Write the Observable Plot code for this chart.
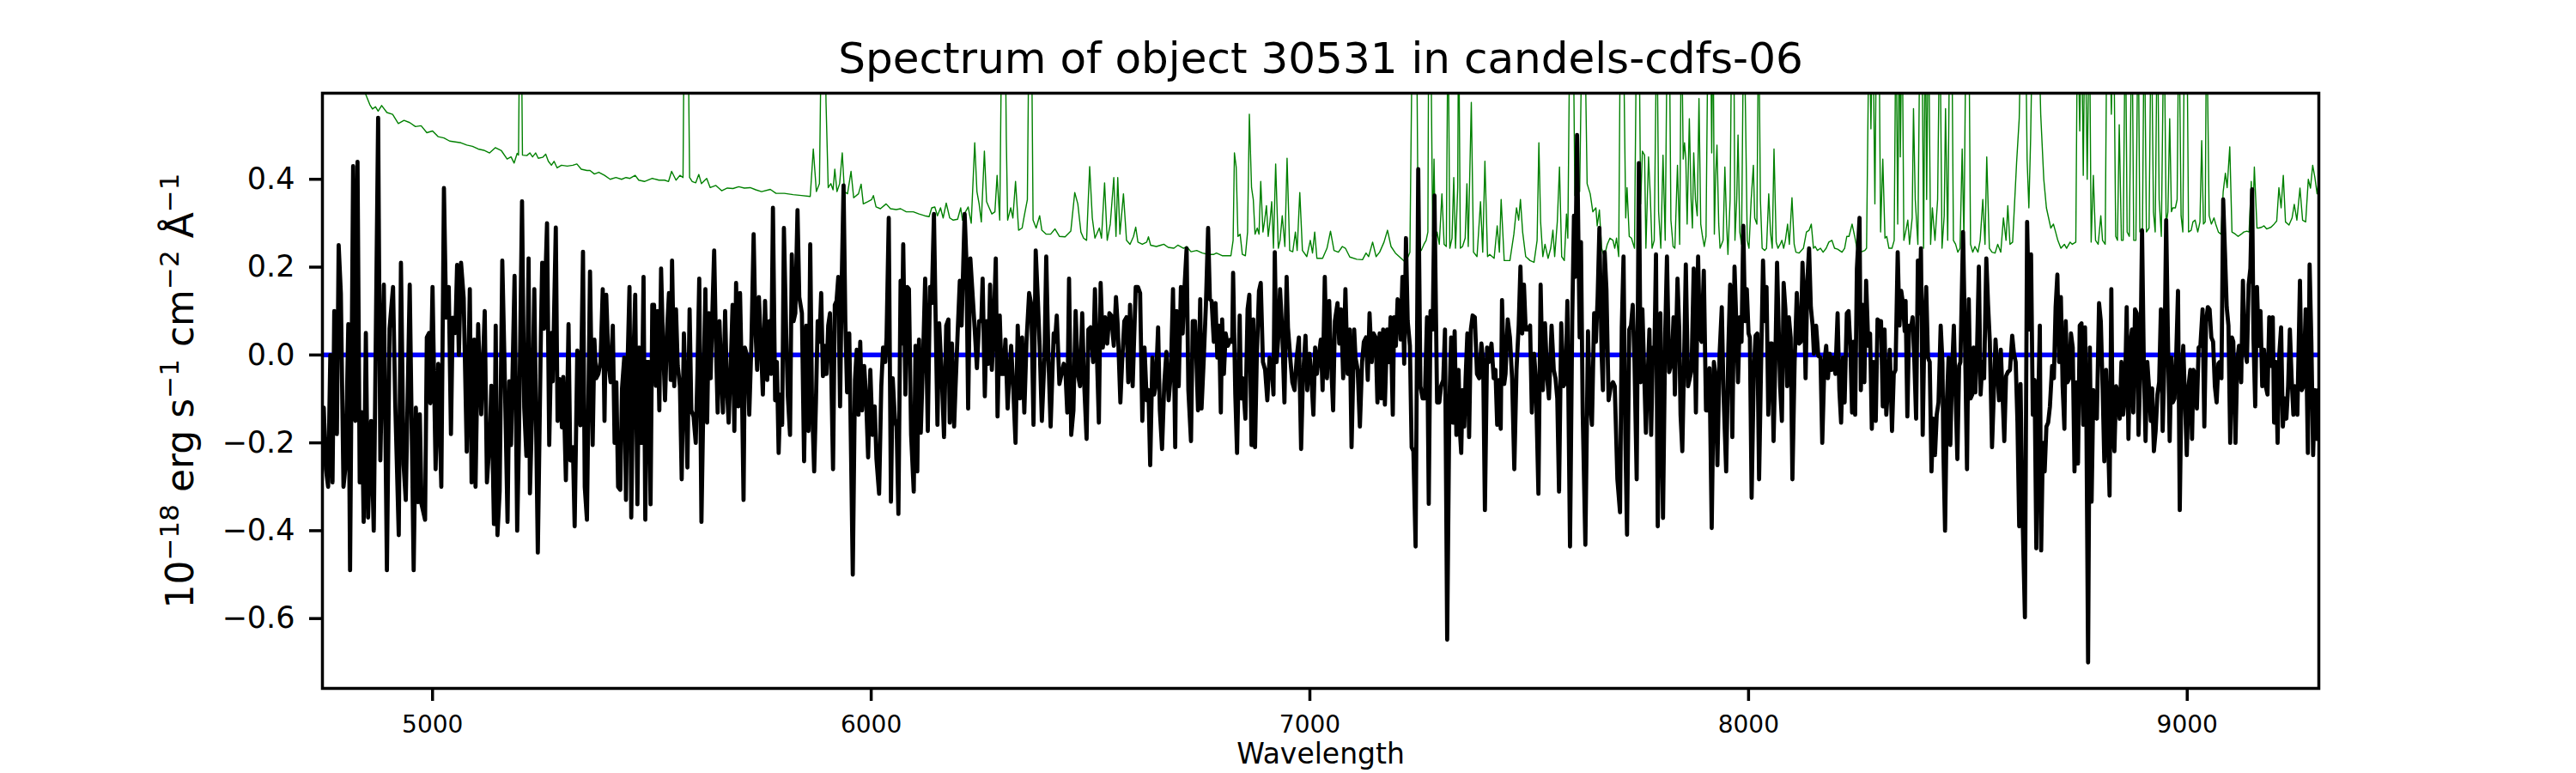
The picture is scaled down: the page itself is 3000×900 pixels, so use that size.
<!DOCTYPE html>
<html><head><meta charset="utf-8">
<script src="https://cdn.jsdelivr.net/npm/d3@7"></script>
<script src="https://cdn.jsdelivr.net/npm/@observablehq/plot@0.6"></script>
<style>body{margin:0;background:#fff;}</style>
</head><body><div id="chart"></div>
<script>
const title = "Spectrum of object 30531 in candels-cdfs-06";
const xLabel = "Wavelength";
const yLabel = "10⁻¹⁸ erg s⁻¹ cm⁻² Å⁻¹";
// y label pieces: [text, isSuperscript]
const yLabelParts = [["10", false], ["−18", true], [" erg s", false], ["−1", true], [" cm", false], ["−2", true], [" Å", false], ["−1", true]];
const xTicks = [5000, 6000, 7000, 8000, 9000];
const yTicks = [-0.6, -0.4, -0.2, 0, 0.2, 0.4];
const xDomain = [4749, 9300];
const yDomain = [-0.759, 0.596];
const zeroLevel = [0];

// observed flux [wavelength, flux]
const flux1 = [[4750,-0.17],[4752,-0.12],[4757,-0.26],[4762,-0.30],[4767,0.0],[4772,-0.29],[4776,0.10],[4782,-0.18],[4786,0.25],[4791,0.14],[4797,-0.30],[4802,-0.25],[4808,0.07],[4812,-0.49],[4819,0.43],[4824,-0.15],[4829,0.44],[4834,-0.29],[4839,-0.13],[4843,-0.38],[4848,0.05],[4853,-0.37],[4860,-0.15],[4866,-0.40],[4876,0.54],[4881,-0.24],[4889,0.16],[4896,-0.49],[4902,0.06],[4910,0.155],[4915,-0.11],[4923,-0.41],[4928,0.21],[4934,-0.25],[4939,-0.33],[4948,0.16],[4957,-0.49],[4962,-0.12],[4967,-0.335],[4971,-0.135],[4975,-0.34],[4983,-0.375],[4987,0.04],[4992,0.05],[4995,-0.11],[5000,0.155],[5007,-0.26],[5013,-0.02],[5020,-0.30],[5026,0.38],[5031,0.085],[5037,0.155],[5042,-0.18],[5046,0.085],[5052,0.05],[5056,0.205],[5060,0.0],[5065,0.21],[5071,0.13],[5078,-0.22],[5085,0.15],[5089,-0.29],[5095,0.035],[5098,-0.30],[5104,0.07],[5111,-0.135],[5119,0.10],[5124,-0.29],[5131,-0.18],[5134,-0.07],[5140,-0.385],[5144,0.067],[5148,-0.41],[5153,-0.31],[5159,0.215],[5164,-0.015],[5171,-0.38],[5175,-0.06],[5179,-0.205],[5187,0.18],[5193,-0.40],[5197,-0.19],[5204,0.35],[5209,-0.12],[5214,-0.23],[5219,0.22],[5222,-0.315],[5227,-0.13],[5232,0.15],[5240,-0.45],[5247,0.045],[5250,0.21],[5254,0.06],[5261,0.30],[5266,-0.205],[5271,0.05],[5274,-0.06],[5281,0.29],[5285,-0.15],[5290,-0.055],[5295,-0.165],[5298,-0.05],[5304,-0.285],[5310,0.07],[5314,-0.24],[5320,-0.21],[5324,-0.39],[5330,0.01],[5337,-0.16],[5343,0.235],[5347,-0.30],[5352,-0.375],[5359,0.19]];
const flux2 = [[5365,-0.205],[5369,0.035],[5373,-0.053],[5378,-0.043],[5383,-0.016],[5388,0.15],[5392,-0.15],[5396,0.137],[5401,-0.016],[5406,-0.062],[5411,0.067],[5415,-0.20],[5419,-0.062],[5423,-0.30],[5428,-0.307],[5432,-0.076],[5437,-0.006],[5441,-0.33],[5445,-0.006],[5449,0.155],[5453,-0.37],[5458,-0.006],[5462,0.137],[5467,-0.34],[5471,0.017],[5476,-0.20],[5481,0.178],[5485,-0.375],[5489,-0.016],[5493,-0.016],[5497,-0.34],[5501,0.114],[5505,0.114],[5509,-0.07],[5513,0.10],[5517,-0.126],[5521,0.197],[5525,0.04],[5530,-0.103],[5535,0.063],[5539,0.141],[5543,-0.057],[5546,0.215],[5551,-0.071],[5555,0.104],[5559,-0.025],[5564,-0.071],[5568,-0.283],[5573,0.049],[5577,-0.08],[5581,-0.256],[5586,0.104],[5590,-0.126],[5595,-0.14],[5600,-0.20],[5604,-0.034],[5608,0.174],[5613,-0.38],[5619,-0.006],[5622,0.15],[5626,-0.154],[5630,0.095],[5634,-0.053],[5638,0.10],[5642,0.238],[5646,0.03],[5650,-0.131],[5654,0.077],[5658,-0.034],[5662,-0.131],[5667,0.10],[5671,-0.071],[5675,-0.154],[5680,-0.016],[5684,0.114],[5688,-0.173],[5692,0.164],[5697,-0.117],[5701,0.141],[5705,-0.053],[5709,-0.33],[5712,0.017],[5718,-0.006],[5722,-0.136],[5727,0.03],[5732,0.275],[5736,0.063],[5740,-0.034],[5744,0.132],[5748,0.04],[5753,-0.09],[5758,0.123],[5763,-0.057],[5768,0.077],[5772,-0.043],[5776,0.335],[5781,-0.103],[5785,-0.016],[5789,-0.223],[5793,-0.09],[5797,-0.159],[5801,0.289],[5806,0.058],[5810,-0.094],[5815,-0.182],[5819,0.229],[5823,0.077],[5827,0.095],[5832,0.33],[5836,0.132],[5842,0.095],[5847,-0.242],[5852,0.067],[5857,-0.173],[5861,0.252],[5865,-0.108],[5870,-0.265],[5874,-0.108],[5878,0.077],[5882,0.03],[5886,0.141],[5890,-0.048],[5894,0.021],[5898,-0.043],[5902,0.067],[5906,0.095],[5909,-0.043],[5913,-0.26],[5917,0.114],[5921,0.123],[5925,0.178],[5929,-0.117],[5933,0.178],[5937,0.386],[5941,0.077],[5945,-0.085],[5950,0.049],[5954,-0.219],[5958,-0.50],[5963,-0.057],[5967,0.012],[5971,-0.136]];
const flux3 = [[5975,0.03],[5979,-0.126],[5984,-0.025],[5988,-0.09],[5993,-0.233],[5998,-0.034],[6003,-0.182],[6008,-0.117],[6012,-0.237],[6018,-0.316],[6023,-0.071],[6027,0.017],[6032,-0.016],[6035,0.04],[6040,0.312],[6045,-0.334],[6049,-0.053],[6054,-0.145],[6058,-0.163],[6062,-0.362],[6067,0.169],[6070,0.026],[6073,0.252],[6078,-0.09],[6082,0.155],[6086,0.15],[6091,-0.182],[6097,-0.311],[6101,0.021],[6105,-0.265],[6109,0.035],[6113,-0.177],[6118,-0.016],[6123,0.174],[6129,-0.173],[6134,0.155],[6138,0.118],[6143,0.321],[6147,0.077],[6151,-0.159],[6155,0.072],[6161,-0.053],[6166,-0.187],[6171,0.067],[6176,0.081],[6179,-0.154],[6184,0.026],[6189,-0.163],[6192,-0.08],[6197,0.049],[6202,0.169],[6206,0.067],[6209,0.174],[6213,0.321],[6217,0.215],[6221,-0.122],[6226,0.22],[6232,0.123],[6236,0.058],[6241,-0.03],[6246,0.077],[6251,0.077],[6254,0.174],[6259,-0.094],[6263,0.077],[6267,-0.02],[6271,0.16],[6275,-0.034],[6279,0.058],[6284,0.22],[6288,-0.14],[6293,0.09],[6297,-0.043],[6301,-0.043],[6306,0.035],[6311,-0.122],[6315,-0.043],[6319,0.021],[6324,-0.08],[6329,-0.20],[6334,0.067],[6339,-0.099],[6344,0.04],[6349,-0.131],[6354,0.03],[6360,0.141],[6365,0.114],[6370,-0.159],[6375,0.238],[6380,0.123],[6384,0.021],[6389,-0.15],[6395,-0.006],[6399,0.224],[6404,-0.006],[6409,-0.163],[6416,0.049],[6419,0.03],[6423,0.09],[6429,-0.066],[6434,-0.043],[6439,-0.02],[6443,-0.043],[6447,-0.131],[6451,0.174],[6456,-0.182],[6461,-0.126],[6466,0.10],[6471,-0.043],[6476,-0.071],[6481,0.095],[6485,-0.053],[6491,-0.191],[6495,0.058],[6500,0.063],[6506,-0.016],[6510,0.15],[6515,-0.016],[6519,-0.154],[6523,0.164],[6528,0.017],[6533,0.086],[6538,0.026],[6543,0.095],[6547,0.09],[6553,0.021],[6558,0.132],[6562,0.067],[6568,-0.108],[6572,-0.016],[6577,0.077],[6582,0.086],[6586,-0.062],[6590,0.114],[6596,-0.071]];
const flux4 = [[6603,0.155],[6608,0.155],[6613,0.141],[6618,-0.15],[6623,0.017],[6628,-0.103],[6632,-0.08],[6636,-0.251],[6641,-0.006],[6645,-0.09],[6649,-0.066],[6654,0.063],[6658,-0.126],[6663,-0.214],[6668,-0.066],[6673,0.007],[6678,-0.103],[6683,-0.043],[6688,0.15],[6693,-0.21],[6696,0.10],[6701,-0.071],[6706,0.155],[6710,0.049],[6714,0.150],[6719,0.243],[6723,-0.08],[6729,-0.196],[6733,0.077],[6738,0.077],[6740,0.03],[6745,-0.126],[6750,0.127],[6753,-0.122],[6758,-0.011],[6763,0.114],[6768,0.289],[6772,0.127],[6776,0.123],[6781,0.03],[6785,0.118],[6789,-0.006],[6793,0.067],[6797,-0.131],[6800,0.081],[6804,-0.043],[6808,0.049],[6813,0.021],[6819,0.035],[6823,0.03],[6825,0.187],[6830,-0.09],[6834,-0.223],[6840,0.09],[6843,-0.099],[6847,-0.053],[6853,-0.145],[6858,0.104],[6862,0.137],[6867,-0.205],[6871,0.081],[6875,-0.21],[6879,-0.002],[6884,0.146],[6888,0.164],[6893,-0.016],[6898,-0.034],[6903,-0.103],[6908,-0.006],[6913,-0.025],[6917,-0.09],[6920,0.234],[6924,-0.016],[6928,0.04],[6932,0.15],[6937,0.054],[6942,-0.108],[6947,0.178],[6950,0.063],[6956,-0.016],[6960,-0.062],[6965,-0.08],[6970,-0.006],[6975,0.04],[6980,-0.214],[6984,-0.057],[6990,0.044],[6994,-0.08],[6999,0.003],[7003,-0.043],[7008,-0.136],[7012,0.017],[7016,-0.043],[7021,0.003],[7025,0.035],[7029,-0.08],[7034,0.178],[7039,-0.053],[7044,0.123],[7048,-0.006],[7053,-0.126],[7057,0.077],[7063,0.118],[7067,0.026],[7071,0.104],[7076,-0.053],[7081,0.15],[7086,-0.043],[7091,0.058],[7095,-0.21],[7101,0.058],[7104,-0.006],[7109,-0.034],[7114,-0.163],[7119,-0.016],[7123,0.03],[7128,0.04],[7132,-0.057],[7136,0.095],[7141,-0.016],[7145,0.049],[7150,0.04],[7154,-0.108],[7159,0.049],[7163,-0.099],[7167,0.058],[7171,-0.113],[7176,0.058],[7180,-0.016],[7184,0.086],[7189,-0.136],[7192,0.086],[7196,0.021],[7200,0.127],[7204,0.114],[7207,0.035],[7211,0.178],[7215,-0.02],[7219,0.266],[7223,0.077]];
const flux5 = [[7228,0.021],[7232,-0.21],[7236,-0.219],[7241,-0.436],[7247,0.423],[7252,-0.071],[7257,-0.099],[7262,-0.099],[7267,0.086],[7271,-0.339],[7275,0.10],[7280,0.058],[7284,0.363],[7290,-0.108],[7295,-0.108],[7299,-0.071],[7304,-0.057],[7308,0.058],[7313,-0.648],[7318,-0.108],[7322,0.04],[7326,-0.154],[7330,0.054],[7334,-0.182],[7339,-0.034],[7342,-0.173],[7345,-0.223],[7348,-0.08],[7352,-0.163],[7355,-0.053],[7359,0.049],[7363,-0.187],[7367,0.058],[7371,0.09],[7376,0.086],[7381,-0.043],[7386,-0.053],[7391,0.026],[7395,-0.016],[7399,-0.353],[7404,0.017],[7408,-0.016],[7414,0.026],[7419,-0.053],[7423,-0.034],[7427,-0.159],[7432,-0.057],[7435,-0.168],[7438,0.125],[7443,-0.066],[7446,-0.043],[7451,0.081],[7456,0.04],[7461,-0.053],[7466,-0.26],[7471,-0.034],[7476,0.067],[7480,0.201],[7484,0.049],[7488,0.16],[7492,0.058],[7497,0.058],[7502,0.067],[7506,-0.131],[7511,0.003],[7515,-0.053],[7521,-0.316],[7526,0.16],[7531,-0.08],[7536,0.072],[7541,-0.053],[7545,-0.099],[7551,0.067],[7556,-0.034],[7560,-0.053],[7564,-0.099],[7568,-0.311],[7573,0.072],[7578,-0.071],[7583,-0.062],[7587,0.123],[7593,-0.436],[7598,0.077],[7602,0.317],[7605,0.178],[7609,0.501],[7615,0.04],[7618,0.257],[7622,-0.136],[7628,-0.432],[7634,0.054],[7638,-0.099],[7643,-0.159],[7648,0.095],[7652,0.03],[7656,0.132],[7660,0.289],[7665,0.003],[7668,-0.08],[7672,0.234],[7676,0.15],[7681,-0.103],[7686,-0.071],[7691,-0.062],[7695,-0.071],[7701,-0.283],[7707,-0.358],[7711,0.063],[7715,0.224],[7719,-0.182],[7723,-0.409],[7728,0.058],[7732,0.067],[7736,0.114],[7740,-0.016],[7745,-0.283],[7750,0.437],[7754,-0.062],[7758,0.104],[7763,-0.071],[7766,-0.177],[7770,-0.053],[7774,0.058],[7778,-0.182],[7782,0.017],[7785,-0.016],[7789,0.229],[7793,-0.39],[7799,0.095],[7805,-0.371],[7810,0.049],[7814,0.224],[7819,-0.039],[7825,-0.016],[7829,0.086],[7832,-0.09],[7838,0.174],[7842,0.058],[7845,-0.136],[7849,-0.219]];
const flux6 = [[7854,0.04],[7857,0.206],[7862,-0.071],[7866,-0.053],[7870,-0.034],[7875,0.197],[7880,-0.131],[7885,0.224],[7889,0.04],[7893,0.03],[7898,0.192],[7903,-0.126],[7907,-0.126],[7911,-0.03],[7916,-0.394],[7921,-0.016],[7925,-0.048],[7929,-0.251],[7934,0.003],[7939,0.109],[7943,-0.09],[7949,-0.265],[7954,0.017],[7958,0.16],[7963,-0.187],[7968,0.201],[7972,0.077],[7976,-0.062],[7980,0.086],[7984,0.03],[7988,0.294],[7992,0.077],[7996,0.15],[8000,0.049],[8003,0.04],[8007,-0.325],[8012,-0.034],[8016,0.044],[8020,0.049],[8024,-0.283],[8028,-0.053],[8033,0.215],[8037,0.077],[8041,0.155],[8045,-0.136],[8050,0.026],[8053,0.026],[8057,-0.196],[8061,-0.016],[8065,0.21],[8069,0.049],[8072,-0.071],[8076,-0.15],[8080,0.164],[8084,0.104],[8088,-0.071],[8092,0.086],[8096,0.04],[8100,-0.283],[8105,-0.016],[8110,0.141],[8115,0.026],[8119,0.03],[8123,0.21],[8127,0.104],[8130,-0.053],[8134,0.169],[8138,0.243],[8142,0.109],[8146,0.067],[8149,0.003],[8154,0.067],[8159,-0.002],[8164,-0.006],[8168,-0.20],[8173,-0.016],[8177,0.021],[8181,-0.053],[8185,0.003],[8189,-0.034],[8193,-0.006],[8198,-0.043],[8203,0.095],[8207,-0.08],[8211,-0.154],[8215,-0.006],[8219,-0.108],[8224,0.095],[8228,0.10],[8232,0.021],[8236,-0.131],[8239,0.03],[8243,-0.136],[8247,0.197],[8253,0.312],[8256,-0.08],[8260,0.114],[8264,-0.062],[8268,0.169],[8273,0.021],[8277,0.049],[8281,-0.168],[8285,-0.016],[8290,-0.15],[8294,0.081],[8298,0.077],[8302,0.077],[8306,-0.117],[8310,0.058],[8314,-0.136],[8318,-0.071],[8322,0.012],[8327,-0.173],[8331,-0.043],[8335,-0.034],[8340,0.234],[8344,0.067],[8348,0.146],[8352,0.118],[8356,0.054],[8358,0.123],[8362,-0.14],[8366,0.067],[8370,0.058],[8374,0.086],[8378,-0.016],[8382,-0.145],[8386,0.215],[8390,0.095],[8393,0.243],[8397,-0.182],[8401,0.067],[8405,0.155],[8409,-0.006],[8413,-0.016],[8417,-0.265],[8421,-0.145],[8425,-0.228],[8429,-0.136],[8433,-0.108],[8438,0.067],[8442,-0.016],[8444,-0.21],[8448,-0.40],[8452,-0.108],[8456,-0.006],[8460,-0.205],[8464,-0.034],[8468,0.067],[8472,-0.09],[8476,-0.237]];
const flux7 = [[8480,-0.025],[8483,-0.016],[8489,0.28],[8493,0.058],[8498,-0.26],[8502,0.127],[8506,-0.099],[8510,-0.09],[8513,0.017],[8517,-0.085],[8521,0.017],[8525,0.201],[8529,-0.09],[8533,-0.016],[8537,-0.053],[8542,0.22],[8546,0.114],[8550,0.03],[8555,-0.21],[8559,-0.09],[8563,0.035],[8567,-0.034],[8571,-0.103],[8575,0.012],[8579,-0.09],[8583,-0.196],[8587,-0.048],[8591,-0.039],[8596,-0.034],[8601,0.044],[8605,0.003],[8609,-0.016],[8613,-0.154],[8617,-0.39],[8620,-0.066],[8624,-0.339],[8630,-0.597],[8635,0.303],[8640,0.058],[8644,0.229],[8648,-0.136],[8652,-0.057],[8656,-0.44],[8660,-0.126],[8664,0.067],[8667,-0.445],[8671,-0.20],[8675,-0.265],[8679,-0.163],[8683,-0.154],[8687,-0.117],[8692,-0.025],[8696,-0.053],[8700,0.109],[8704,0.183],[8708,-0.016],[8712,0.132],[8716,-0.071],[8720,-0.168],[8723,0.077],[8727,-0.062],[8731,-0.053],[8735,0.049],[8739,0.017],[8743,-0.265],[8747,-0.062],[8751,-0.247],[8755,0.067],[8759,0.072],[8763,-0.159],[8767,0.063],[8770,-0.117],[8774,-0.70],[8778,0.017],[8782,-0.334],[8786,-0.08],[8790,-0.113],[8794,-0.145],[8799,0.118],[8803,0.077],[8807,-0.071],[8811,-0.242],[8815,-0.034],[8819,-0.173],[8823,-0.32],[8827,0.15],[8830,-0.173],[8834,-0.219],[8838,-0.071],[8842,-0.09],[8846,-0.145],[8850,-0.016],[8854,-0.136],[8858,-0.09],[8862,0.109],[8866,-0.191],[8870,0.021],[8874,0.058],[8877,-0.131],[8881,0.104],[8885,0.095],[8889,-0.182],[8893,-0.034],[8897,0.284],[8901,-0.016],[8905,-0.196],[8909,-0.016],[8913,-0.076],[8917,-0.15],[8920,-0.076],[8924,-0.219],[8928,-0.173],[8932,-0.09],[8936,-0.062],[8940,0.104],[8944,-0.173],[8948,-0.016],[8952,0.307],[8956,0.04],[8960,-0.196],[8964,-0.006],[8967,-0.108],[8971,-0.099],[8975,0.003],[8979,0.146],[8983,-0.353],[8987,-0.053],[8991,0.021],[8995,-0.108],[8999,-0.228],[9003,-0.071],[9007,-0.034],[9011,-0.191],[9014,-0.034],[9018,-0.043],[9022,-0.122],[9026,0.017],[9030,0.021],[9035,0.104],[9039,-0.163],[9043,0.077],[9047,0.109],[9051,0.104],[9055,0.040],[9059,0.03],[9063,-0.071],[9067,-0.108],[9071,-0.02],[9074,-0.016],[9078,-0.053],[9082,0.354],[9086,0.234],[9090,0.109],[9094,0.067],[9098,-0.20],[9102,0.040]];
const flux8 = [[9105,0.03],[9110,-0.20],[9114,-0.016],[9118,0.021],[9123,-0.062],[9127,0.169],[9131,0.017],[9136,-0.016],[9140,0.16],[9144,0.197],[9148,0.377],[9151,0.04],[9155,-0.117],[9159,0.155],[9163,0.021],[9167,0.10],[9171,-0.071],[9175,0.012],[9179,-0.071],[9183,-0.09],[9187,0.086],[9191,-0.025],[9195,0.086],[9198,-0.154],[9202,-0.016],[9206,-0.20],[9210,0.003],[9214,0.063],[9218,-0.163],[9222,-0.099],[9226,-0.145],[9230,-0.071],[9234,0.058],[9238,-0.053],[9242,-0.136],[9245,-0.071],[9251,-0.136],[9255,0.067],[9257,0.169],[9261,-0.08],[9265,-0.071],[9270,0.104],[9275,-0.223],[9279,0.206],[9283,0.03],[9287,-0.228],[9291,-0.08],[9295,-0.191],[9299,-0.08]];

// noise / sky spectrum [wavelength, flux]
const sky1 = [[4749,0.75],[4838,0.62],[4847,0.595],[4857,0.57],[4863,0.56],[4870,0.565],[4876,0.555],[4884,0.568],[4896,0.552],[4909,0.548],[4922,0.527],[4935,0.534],[4948,0.529],[4961,0.52],[4974,0.522],[4987,0.506],[5000,0.51],[5013,0.497],[5026,0.494],[5039,0.487],[5052,0.485],[5065,0.483],[5078,0.478],[5091,0.475],[5104,0.469],[5117,0.466],[5130,0.46],[5143,0.472],[5157,0.465],[5170,0.446],[5179,0.451],[5186,0.437],[5193,0.459],[5196,0.455],[5199,0.8],[5202,0.8],[5205,0.455],[5215,0.454],[5222,0.46],[5228,0.451],[5235,0.46],[5241,0.448],[5251,0.45],[5258,0.457],[5264,0.441],[5271,0.432],[5277,0.441],[5284,0.426],[5294,0.432],[5307,0.43],[5320,0.432],[5329,0.435],[5339,0.423],[5352,0.42]];
const sky2 = [[5359,0.42],[5369,0.412],[5379,0.416],[5392,0.409],[5405,0.40],[5418,0.404],[5431,0.40],[5441,0.404],[5450,0.402],[5462,0.409],[5470,0.398],[5483,0.395],[5501,0.402],[5516,0.398],[5529,0.398],[5538,0.395],[5545,0.418],[5555,0.398],[5564,0.409],[5571,0.404],[5574,0.8],[5582,0.8],[5586,0.404],[5592,0.395],[5600,0.392],[5607,0.411],[5613,0.39],[5625,0.402],[5633,0.381],[5646,0.386],[5659,0.374],[5672,0.38],[5685,0.379],[5698,0.383],[5711,0.38],[5724,0.381],[5737,0.376],[5750,0.372],[5770,0.377],[5783,0.368],[5802,0.368],[5822,0.365],[5841,0.363],[5861,0.361],[5868,0.469],[5875,0.372],[5882,0.39],[5887,0.8],[5894,0.8],[5897,0.575],[5902,0.381],[5908,0.39],[5913,0.376],[5917,0.423],[5922,0.372],[5928,0.39],[5934,0.46],[5939,0.372],[5946,0.367],[5954,0.418],[5960,0.358],[5971,0.367]];
const sky3 = [[5977,0.389],[5982,0.344],[5992,0.349],[6001,0.354],[6005,0.363],[6011,0.337],[6021,0.333],[6034,0.344],[6044,0.333],[6057,0.331],[6067,0.333],[6080,0.326],[6096,0.326],[6109,0.321],[6122,0.317],[6132,0.315],[6138,0.335],[6145,0.337],[6151,0.317],[6158,0.335],[6164,0.312],[6171,0.346],[6179,0.312],[6187,0.307],[6197,0.309],[6204,0.335],[6208,0.307],[6215,0.326],[6221,0.337],[6228,0.30],[6236,0.483],[6241,0.372],[6246,0.344],[6251,0.303],[6258,0.464],[6263,0.349],[6269,0.335],[6275,0.321],[6282,0.326],[6287,0.409],[6293,0.307],[6298,0.8],[6305,0.8],[6308,0.492],[6311,0.307],[6318,0.335],[6323,0.312],[6329,0.395],[6336,0.284],[6344,0.289],[6349,0.317],[6356,0.354],[6360,0.8],[6365,0.8],[6369,0.307],[6376,0.289],[6384,0.317],[6389,0.284],[6399,0.275],[6409,0.275],[6419,0.287],[6429,0.27],[6442,0.269],[6455,0.282],[6464,0.37],[6471,0.344],[6478,0.28],[6484,0.266],[6491,0.261],[6498,0.429],[6504,0.312],[6510,0.266],[6520,0.289],[6525,0.266],[6532,0.392],[6538,0.261],[6545,0.298],[6553,0.404],[6558,0.27],[6562,0.404],[6567,0.275],[6575,0.367],[6582,0.261],[6590,0.252],[6598,0.27]];
const sky4 = [[6603,0.291],[6608,0.257],[6618,0.252],[6628,0.257],[6632,0.269],[6637,0.25],[6650,0.247],[6660,0.25],[6667,0.252],[6677,0.245],[6690,0.243],[6699,0.25],[6712,0.243],[6719,0.247],[6729,0.235],[6742,0.238],[6755,0.232],[6768,0.229],[6781,0.229],[6787,0.232],[6800,0.226],[6820,0.226],[6825,0.261],[6828,0.46],[6832,0.428],[6836,0.27],[6841,0.275],[6846,0.229],[6853,0.226],[6858,0.28],[6862,0.548],[6867,0.381],[6871,0.354],[6875,0.275],[6880,0.289],[6884,0.275],[6888,0.395],[6893,0.28],[6897,0.307],[6901,0.34],[6905,0.27],[6909,0.303],[6913,0.349],[6917,0.243],[6922,0.435],[6928,0.243],[6932,0.261],[6937,0.317],[6943,0.247],[6948,0.448],[6954,0.238],[6961,0.235],[6967,0.28],[6971,0.238],[6977,0.37],[6983,0.238],[6993,0.224],[7001,0.261],[7006,0.232],[7011,0.28],[7016,0.22],[7029,0.22],[7039,0.243],[7047,0.282],[7055,0.238],[7065,0.234],[7074,0.247],[7081,0.243],[7091,0.223],[7107,0.218],[7120,0.217],[7128,0.232],[7134,0.224],[7143,0.257],[7151,0.224],[7159,0.234],[7169,0.257],[7177,0.284],[7185,0.247],[7195,0.232],[7208,0.22],[7218,0.211],[7224,0.224]];
const sky5 = [[7228,0.234],[7234,0.8],[7243,0.8],[7247,0.243],[7254,0.238],[7260,0.252],[7265,0.261],[7269,0.28],[7271,0.8],[7275,0.8],[7280,0.27],[7283,0.446],[7286,0.257],[7290,0.28],[7295,0.252],[7301,0.367],[7306,0.252],[7311,0.247],[7315,0.8],[7319,0.243],[7324,0.266],[7328,0.404],[7332,0.243],[7337,0.381],[7339,0.8],[7343,0.243],[7348,0.247],[7354,0.266],[7358,0.39],[7361,0.247],[7368,0.575],[7373,0.234],[7381,0.224],[7389,0.349],[7394,0.234],[7399,0.441],[7405,0.224],[7410,0.229],[7420,0.22],[7427,0.294],[7432,0.234],[7436,0.354],[7443,0.215],[7456,0.215],[7465,0.275],[7471,0.335],[7476,0.307],[7480,0.354],[7485,0.28],[7492,0.224],[7502,0.215],[7511,0.211],[7518,0.261],[7522,0.483],[7526,0.303],[7531,0.224],[7536,0.252],[7543,0.22],[7549,0.243],[7554,0.284],[7558,0.224],[7564,0.303],[7569,0.428],[7574,0.224],[7580,0.215],[7585,0.321],[7588,0.266],[7593,0.8],[7600,0.8],[7604,0.363],[7609,0.40],[7615,0.372],[7621,0.8],[7626,0.8],[7632,0.39],[7639,0.367],[7645,0.326],[7652,0.335],[7655,0.294],[7660,0.33],[7665,0.243],[7671,0.224],[7678,0.252],[7684,0.266],[7691,0.261],[7695,0.243],[7699,0.266],[7704,0.224],[7708,0.8],[7714,0.8],[7720,0.312],[7723,0.381],[7728,0.27],[7733,0.266],[7740,0.243],[7745,0.8],[7750,0.8],[7754,0.344],[7758,0.464],[7763,0.455],[7766,0.243],[7772,0.451],[7776,0.363],[7780,0.243],[7785,0.261],[7791,0.8],[7795,0.326],[7800,0.243],[7805,0.455],[7810,0.261],[7815,0.8],[7819,0.8],[7823,0.307],[7828,0.247],[7832,0.243],[7838,0.432],[7843,0.252],[7847,0.8],[7851,0.446]];
const sky6 = [[7854,0.483],[7857,0.446],[7860,0.298],[7865,0.538],[7869,0.354],[7872,0.289],[7875,0.46],[7879,0.354],[7883,0.317],[7887,0.584],[7891,0.298],[7895,0.27],[7899,0.247],[7903,0.27],[7908,0.8],[7913,0.8],[7916,0.46],[7919,0.8],[7922,0.275],[7925,0.409],[7928,0.478],[7932,0.298],[7935,0.243],[7942,0.261],[7946,0.428],[7950,0.298],[7953,0.229],[7958,0.354],[7962,0.8],[7966,0.8],[7969,0.261],[7973,0.354],[7976,0.501],[7980,0.28],[7984,0.252],[7989,0.8],[7993,0.557],[7997,0.261],[8001,0.243],[8006,0.354],[8011,0.432],[8014,0.312],[8019,0.298],[8023,0.8],[8027,0.354],[8031,0.243],[8037,0.238],[8041,0.243],[8046,0.367],[8050,0.28],[8054,0.243],[8058,0.469],[8063,0.257],[8067,0.243],[8072,0.252],[8076,0.261],[8080,0.243],[8084,0.261],[8089,0.298],[8093,0.252],[8099,0.358],[8104,0.252],[8108,0.234],[8115,0.232],[8125,0.243],[8132,0.28],[8138,0.284],[8143,0.298],[8148,0.243],[8152,0.247],[8157,0.238],[8164,0.243],[8170,0.234],[8177,0.243],[8183,0.257],[8190,0.261],[8196,0.243],[8203,0.241],[8213,0.234],[8219,0.243],[8224,0.27],[8229,0.27],[8236,0.298],[8242,0.27],[8247,0.243],[8255,0.234],[8265,0.238],[8269,0.243],[8275,0.8],[8279,0.515],[8283,0.8],[8288,0.344],[8292,0.8],[8297,0.8],[8301,0.28],[8306,0.446],[8311,0.266],[8315,0.27],[8320,0.243],[8327,0.243],[8332,0.261],[8336,0.8],[8340,0.298],[8344,0.8],[8346,0.451],[8350,0.8],[8354,0.261],[8358,0.28],[8363,0.307],[8367,0.252],[8373,0.312],[8376,0.561],[8380,0.354],[8386,0.252],[8391,0.8],[8395,0.8],[8399,0.243],[8403,0.8],[8406,0.354],[8410,0.8],[8415,0.252],[8419,0.335],[8425,0.261],[8431,0.354],[8436,0.8],[8441,0.243],[8446,0.317],[8449,0.561],[8454,0.261],[8459,0.8],[8463,0.8],[8467,0.261],[8472,0.252],[8477,0.234]];
const sky7 = [[8482,0.243],[8487,0.469],[8491,0.261],[8496,0.8],[8502,0.8],[8506,0.252],[8511,0.234],[8516,0.247],[8523,0.234],[8528,0.261],[8534,0.354],[8539,0.252],[8543,0.451],[8549,0.243],[8555,0.234],[8562,0.232],[8568,0.252],[8575,0.234],[8581,0.312],[8587,0.261],[8591,0.34],[8596,0.252],[8602,0.257],[8611,0.437],[8617,0.538],[8622,0.8],[8631,0.8],[8635,0.446],[8639,0.335],[8643,0.492],[8648,0.8],[8660,0.8],[8666,0.548],[8673,0.40],[8679,0.335],[8684,0.312],[8689,0.289],[8695,0.298],[8700,0.28],[8705,0.261],[8712,0.243],[8720,0.252],[8725,0.243],[8733,0.257],[8738,0.252],[8746,0.257],[8750,0.8],[8755,0.51],[8759,0.8],[8763,0.409],[8767,0.8],[8772,0.40],[8777,0.8],[8781,0.257],[8786,0.409],[8791,0.261],[8797,0.252],[8803,0.317],[8807,0.261],[8813,0.252],[8817,0.8],[8823,0.8],[8827,0.548],[8832,0.8],[8837,0.27],[8841,0.261],[8845,0.524],[8850,0.261],[8854,0.261],[8859,0.8],[8863,0.28],[8868,0.27],[8874,0.8],[8878,0.261],[8883,0.261],[8888,0.8],[8892,0.28],[8898,0.289],[8902,0.8],[8907,0.28],[8913,0.289],[8918,0.8],[8923,0.326],[8927,0.28],[8932,0.8],[8936,0.354],[8941,0.27],[8947,0.8],[8952,0.298],[8956,0.326],[8960,0.538],[8964,0.326],[8967,0.335],[8973,0.335],[8977,0.354],[8981,0.8],[8986,0.317],[8990,0.28],[8994,0.8],[8999,0.8],[9003,0.28],[9009,0.284],[9013,0.303],[9018,0.307],[9024,0.28],[9029,0.303],[9033,0.488],[9037,0.298],[9041,0.303],[9044,0.8],[9050,0.317],[9055,0.298],[9061,0.312],[9065,0.298],[9071,0.28],[9077,0.275],[9082,0.372],[9087,0.414],[9091,0.381],[9097,0.474],[9102,0.28]];
const sky8 = [[9110,0.275],[9116,0.27],[9123,0.275],[9129,0.28],[9136,0.282],[9141,0.28],[9146,0.395],[9149,0.289],[9153,0.428],[9159,0.289],[9163,0.289],[9170,0.291],[9175,0.294],[9181,0.287],[9191,0.291],[9198,0.298],[9204,0.305],[9209,0.381],[9214,0.335],[9219,0.409],[9224,0.303],[9232,0.296],[9239,0.312],[9244,0.343],[9250,0.307],[9257,0.38],[9263,0.307],[9270,0.303],[9276,0.40],[9281,0.38],[9286,0.432],[9291,0.404],[9296,0.367],[9300,0.40]];

const toRows = (arr) => arr.map(([w, f]) => ({w, f}));
const flux = toRows([].concat(flux1, flux2, flux3, flux4, flux5, flux6, flux7, flux8));
const sky = toRows([].concat(sky1, sky2, sky3, sky4, sky5, sky6, sky7, sky8));

const chart = Plot.plot({
  width: 3000,
  height: 900,
  marginLeft: 375,
  marginRight: 300,
  marginTop: 108,
  marginBottom: 99,
  style: {fontFamily: "DejaVu Sans", background: "white", color: "black"},
  x: {domain: xDomain},
  y: {domain: yDomain},
  marks: [
    Plot.line(sky, {x: "w", y: "f", stroke: "#008000", strokeWidth: 1.4, clip: true}),
    Plot.ruleY(zeroLevel, {stroke: "#0000ff", strokeWidth: 5.5}),
    Plot.line(flux, {x: "w", y: "f", stroke: "black", strokeWidth: 4.8, clip: true}),
    Plot.frame({stroke: "black", strokeWidth: 3.5}),
    Plot.axisX({ticks: xTicks, tickSize: 15, tickPadding: 17, fontSize: 28, tickFormat: (d) => String(d), label: null, strokeWidth: 3.5}),
    Plot.axisY({ticks: yTicks, tickSize: 15, tickPadding: 17, fontSize: 35, tickFormat: d3.format(".1f"), label: null, strokeWidth: 3.5}),
    Plot.text([title], {text: (d) => d, frameAnchor: "top", dy: -24, lineAnchor: "bottom", fontSize: 50}),
    Plot.text([xLabel], {text: (d) => d, frameAnchor: "bottom", dy: 87, lineAnchor: "bottom", fontSize: 33}),
    Plot.text([yLabel], {text: (d) => d, frameAnchor: "left", dx: -165, rotate: -90, lineAnchor: "middle", textAnchor: "middle", fontSize: 44})
  ]
});
document.getElementById("chart").appendChild(chart);

// render the y label with real superscripts (as matplotlib mathtext does)
const supShift = 17;
d3.select(chart).selectAll("text").filter(function () { return this.textContent === yLabel; }).each(function () {
  const t = d3.select(this);
  t.text(null);
  let raised = false;
  for (const [s, sup] of yLabelParts) {
    const span = t.append("tspan").text(s);
    if (sup && !raised) { span.attr("dy", -supShift).attr("font-size", 31); raised = true; }
    else if (!sup && raised) { span.attr("dy", supShift); raised = false; }
    else if (sup) { span.attr("font-size", 31); }
  }
});
</script>
</body></html>
